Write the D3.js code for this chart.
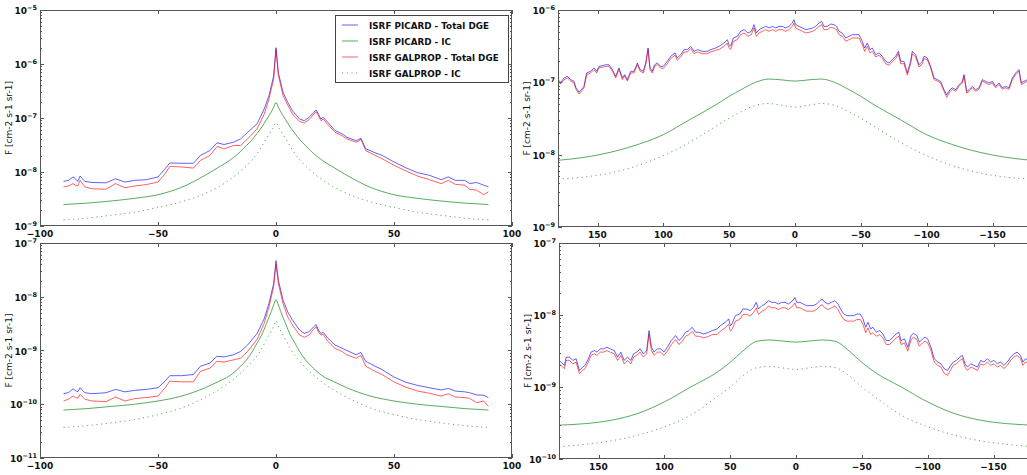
<!DOCTYPE html>
<html><head><meta charset="utf-8">
<script src="https://cdn.jsdelivr.net/npm/d3@7"></script>
<style>body{margin:0;background:#fff}svg{display:block}text{font-family:"DejaVu Sans",sans-serif}</style>
</head><body><svg id="c" width="1027" height="475"></svg>
<script>
// ---------- DATA ----------
const seriesNames = ["ISRF PICARD - Total DGE","ISRF PICARD - IC","ISRF GALPROP - Total DGE","ISRF GALPROP - IC"];

// latitude profiles (top-left / bottom-left)
const latTot = [-90,-88,-86,-85,-84,-83,-81,-78,-72,-68,-64,-60,-55,-50,-47,-45,-40,-35,-32,-28,-25,-22,-18,-15,-12,-8,-5,-3,-1,0,1,3,5,7,10,12,14,16,17,18,19,20,22,25,28,30,34,36,38,42,45,50,55,60,65,70,73,76,80,82,85,88,90];
const latA_picTot = [6.7e-9,7.0e-9,8.1e-9,7.5e-9,6.7e-9,8.4e-9,6.7e-9,6.4e-9,6.3e-9,7.5e-9,6.5e-9,7.0e-9,7.2e-9,8.1e-9,1.15e-8,1.47e-8,1.45e-8,1.45e-8,2.03e-8,2.5e-8,3.47e-8,3.23e-8,3.57e-8,4.1e-8,5.45e-8,7.8e-8,1.47e-7,2.58e-7,6.0e-7,2.0e-6,6.9e-7,2.97e-7,1.94e-7,1.36e-7,9.6e-8,8.9e-8,1.03e-7,1.27e-7,1.4e-7,1.18e-7,9.6e-8,1.03e-7,8.3e-8,5.85e-8,5.1e-8,4.4e-8,3.8e-8,4.2e-8,2.7e-8,2.27e-8,2.03e-8,1.53e-8,1.2e-8,9.7e-9,8.7e-9,7.2e-9,8.1e-9,7.0e-9,7.0e-9,6.1e-9,6.4e-9,5.7e-9,5.3e-9];
const latA_galTot = [5.3e-9,5.5e-9,6.1e-9,5.7e-9,5.5e-9,7.0e-9,5.3e-9,4.9e-9,4.8e-9,6.1e-9,5.1e-9,5.5e-9,5.85e-9,6.5e-9,9.3e-9,1.27e-8,1.24e-8,1.18e-8,1.64e-8,2.03e-8,2.97e-8,2.69e-8,3.1e-8,3.1e-8,4.1e-8,6.3e-8,1.18e-7,2.24e-7,5.2e-7,1.86e-6,6.2e-7,2.58e-7,1.73e-7,1.18e-7,8.6e-8,8.1e-8,9.3e-8,1.18e-7,1.31e-7,1.1e-7,8.9e-8,9.6e-8,7.5e-8,5.45e-8,4.7e-8,4.1e-8,3.56e-8,4.0e-8,2.5e-8,2.03e-8,1.76e-8,1.33e-8,1.05e-8,8.4e-9,7.2e-9,6.1e-9,7.0e-9,5.9e-9,5.7e-9,4.8e-9,4.6e-9,3.8e-9,4.3e-9];
const latB_picTot = [1.58e-10,1.64e-10,1.94e-10,1.8e-10,1.7e-10,2.03e-10,1.64e-10,1.57e-10,1.64e-10,1.89e-10,1.7e-10,1.81e-10,1.89e-10,2.03e-10,2.69e-10,3.4e-10,3.4e-10,3.57e-10,5.1e-10,5.85e-10,7.8e-10,7.6e-10,8.3e-10,9.6e-10,1.27e-9,2.08e-9,3.9e-9,7.4e-9,1.76e-8,4.7e-8,2.03e-8,8.6e-9,5.2e-9,3.67e-9,2.4e-9,2.08e-9,2.24e-9,2.77e-9,3.05e-9,2.4e-9,2.08e-9,2.17e-9,1.69e-9,1.27e-9,1.1e-9,1.0e-9,8.3e-10,9.2e-10,6.3e-10,5.1e-10,4.4e-10,3.2e-10,2.57e-10,2.24e-10,2.03e-10,1.84e-10,1.97e-10,1.76e-10,1.7e-10,1.64e-10,1.49e-10,1.47e-10,1.33e-10];
const latB_galTot = [1.15e-10,1.24e-10,1.42e-10,1.35e-10,1.29e-10,1.53e-10,1.24e-10,1.15e-10,1.12e-10,1.36e-10,1.15e-10,1.27e-10,1.33e-10,1.42e-10,2.03e-10,2.69e-10,2.61e-10,2.61e-10,4.1e-10,4.7e-10,6.3e-10,6.1e-10,6.7e-10,7.2e-10,9.6e-10,1.62e-9,3.2e-9,6.4e-9,1.53e-8,4.1e-8,1.76e-8,7.4e-9,4.2e-9,2.97e-9,1.94e-9,1.76e-9,1.94e-9,2.5e-9,2.77e-9,2.17e-9,1.94e-9,2.0e-9,1.47e-9,1.1e-9,9.6e-10,8.3e-10,7.2e-10,8.1e-10,5.1e-10,4.1e-10,3.56e-10,2.6e-10,2.08e-10,1.76e-10,1.6e-10,1.42e-10,1.57e-10,1.36e-10,1.33e-10,1.29e-10,1.07e-10,1.15e-10,9.1e-11];

const latIC = [-90,-80,-70,-60,-50,-40,-30,-24,-20,-15,-12.5,-10,-8,-6,-4,-2,-1,0,1,2,4,6,8,10,12.5,15,20,24,30,40,50,60,70,80,90];
const latA_picIC = [2.5e-9,2.65e-9,2.9e-9,3.25e-9,3.8e-9,5.2e-9,8.7e-9,1.25e-8,1.6e-8,2.4e-8,3.1e-8,4.0e-8,5.2e-8,6.8e-8,9.4e-8,1.3e-7,1.58e-7,1.94e-7,1.58e-7,1.3e-7,9.4e-8,6.8e-8,5.2e-8,4.0e-8,3.1e-8,2.4e-8,1.6e-8,1.25e-8,8.7e-9,5.2e-9,3.8e-9,3.25e-9,2.9e-9,2.65e-9,2.5e-9];
const latA_galIC = [1.29e-9,1.4e-9,1.58e-9,1.8e-9,2.2e-9,2.8e-9,4.0e-9,5.4e-9,7.0e-9,1.03e-8,1.3e-8,1.7e-8,2.2e-8,3.0e-8,4.2e-8,5.7e-8,6.8e-8,8.3e-8,6.8e-8,5.7e-8,4.2e-8,3.0e-8,2.2e-8,1.7e-8,1.3e-8,1.03e-8,7.0e-9,5.4e-9,4.0e-9,2.8e-9,2.2e-9,1.8e-9,1.58e-9,1.4e-9,1.29e-9];
const latB_picIC = [7.8e-11,8.3e-11,9.1e-11,1.0e-10,1.15e-10,1.42e-10,2.03e-10,2.7e-10,3.3e-10,5.1e-10,6.7e-10,9.6e-10,1.38e-9,1.97e-9,3.2e-9,5.3e-9,7.0e-9,8.9e-9,7.0e-9,5.3e-9,3.2e-9,1.97e-9,1.38e-9,9.6e-10,6.7e-10,5.1e-10,3.3e-10,2.7e-10,2.03e-10,1.42e-10,1.15e-10,1.0e-10,9.1e-11,8.3e-11,7.8e-11];
const latB_galIC = [3.7e-11,4.0e-11,4.5e-11,5.2e-11,6.4e-11,8.5e-11,1.35e-10,1.9e-10,2.5e-10,3.8e-10,4.8e-10,6.3e-10,8.0e-10,1.1e-9,1.6e-9,2.3e-9,2.8e-9,3.6e-9,2.8e-9,2.3e-9,1.6e-9,1.1e-9,8.0e-10,6.3e-10,4.8e-10,3.8e-10,2.5e-10,1.9e-10,1.35e-10,8.5e-11,6.4e-11,5.2e-11,4.5e-11,4.0e-11,3.7e-11];

// longitude profiles (top-right)
const lonA = [180,178,175.4,172.9,170.4,167.8,166.6,164,162.3,160.3,158.2,155.2,152.7,150.6,148.9,146.3,143.8,141.3,138.7,136.2,133.7,131.1,129.4,127.3,124.8,122.3,119.7,117.7,115.2,113.4,111.6,110.1,108.4,106.6,104.6,102,100,97,94.4,91.1,89.4,86.8,84.3,81.8,79.2,76.7,74.2,70.4,66.6,64.1,60.3,57.7,53.9,51.4,50.1,48.9,46.8,43.8,41.3,38.7,35.7,33.2,31.1,29.4,27.3,24.8,22.3,19.7,17.2,14.7,12.2,9.6,7.1,4.6,2,0.8,-0.5,-3,-5.6,-8.1,-10.6,-13.2,-15.7,-18.2,-20.3,-22,-24.6,-27.1,-29.6,-31.6,-33.4,-35.9,-38.5,-41,-43.5,-46.1,-48.6,-51.1,-52.9,-54.9,-57,-58.7,-61.3,-63.8,-66.3,-68.9,-71.4,-73.9,-76.5,-78.5,-80.3,-82.8,-85.3,-87.8,-89.1,-91.6,-94.2,-96.7,-98,-100.5,-103,-105.6,-108.1,-110.6,-113.2,-115.2,-117.7,-119.5,-122,-124.6,-127.1,-128.4,-130.4,-132.2,-134.7,-137.2,-139.7,-142.3,-144.8,-147.3,-149.9,-152.4,-154.9,-157.5,-160,-162.5,-165.1,-167.6,-170.1,-171.9,-173.9,-176.5,-180];
const lonA_picTot = [1.09e-7,1.0e-7,1.15e-7,1.21e-7,1.09e-7,1.03e-7,8.6e-8,7.3e-8,7.9e-8,8.8e-8,1.35e-7,1.42e-7,1.58e-7,1.42e-7,1.66e-7,1.7e-7,1.75e-7,1.75e-7,1.5e-7,1.21e-7,1.58e-7,1.15e-7,1.28e-7,1.09e-7,1.42e-7,1.42e-7,1.85e-7,1.5e-7,1.42e-7,1.85e-7,2.98e-7,1.58e-7,1.42e-7,1.75e-7,1.85e-7,1.66e-7,1.66e-7,1.95e-7,2.29e-7,2.55e-7,2.17e-7,2.41e-7,2.83e-7,2.83e-7,3.15e-7,2.68e-7,2.83e-7,2.68e-7,2.68e-7,2.83e-7,2.98e-7,3.15e-7,3.5e-7,3.89e-7,3.32e-7,3.15e-7,4.1e-7,4.32e-7,5.07e-7,5.35e-7,4.81e-7,5.07e-7,6.27e-7,4.81e-7,5.35e-7,5.64e-7,5.94e-7,5.64e-7,5.94e-7,5.64e-7,5.94e-7,5.94e-7,5.64e-7,5.94e-7,6.61e-7,7.35e-7,6.27e-7,5.94e-7,5.64e-7,5.35e-7,5.46e-7,5.64e-7,5.94e-7,6.61e-7,6.97e-7,5.94e-7,5.94e-7,6.4e-7,6.27e-7,5.94e-7,5.07e-7,4.81e-7,4.1e-7,4.32e-7,4.56e-7,4.56e-7,4.56e-7,3.69e-7,2.98e-7,3.5e-7,2.83e-7,2.98e-7,2.41e-7,2.55e-7,2.29e-7,1.95e-7,1.85e-7,2.06e-7,2.29e-7,2.68e-7,1.95e-7,1.95e-7,1.35e-7,1.95e-7,2.68e-7,2.41e-7,1.75e-7,1.95e-7,2.29e-7,2.17e-7,1.66e-7,1.15e-7,1.09e-7,1.03e-7,7.9e-8,6.7e-8,7.9e-8,8.4e-8,7.9e-8,9.3e-8,1.03e-7,1.28e-7,7.5e-8,7.9e-8,8.8e-8,7.9e-8,8.4e-8,1.09e-7,1.03e-7,9.8e-8,1.03e-7,8.8e-8,9.8e-8,8.4e-8,8.8e-8,8.4e-8,1.15e-7,1.35e-7,1.5e-7,9.8e-8,1.03e-7,1.09e-7,1.09e-7];
const lonA_galTot = [1.04e-7,9.5e-8,1.09e-7,1.15e-7,1.04e-7,9.8e-8,8.2e-8,6.9e-8,7.5e-8,8.4e-8,1.28e-7,1.35e-7,1.5e-7,1.35e-7,1.58e-7,1.62e-7,1.66e-7,1.66e-7,1.43e-7,1.15e-7,1.5e-7,1.09e-7,1.22e-7,1.04e-7,1.35e-7,1.35e-7,1.76e-7,1.43e-7,1.35e-7,1.76e-7,2.83e-7,1.5e-7,1.35e-7,1.66e-7,1.76e-7,1.58e-7,1.55e-7,1.81e-7,2.13e-7,2.37e-7,2.02e-7,2.24e-7,2.63e-7,2.63e-7,2.93e-7,2.49e-7,2.63e-7,2.49e-7,2.49e-7,2.63e-7,2.77e-7,2.84e-7,3.15e-7,3.5e-7,2.99e-7,2.84e-7,3.69e-7,3.89e-7,4.56e-7,4.82e-7,4.33e-7,4.56e-7,5.64e-7,4.33e-7,4.82e-7,5.08e-7,5.35e-7,5.08e-7,5.35e-7,5.08e-7,5.35e-7,5.35e-7,5.08e-7,5.35e-7,5.95e-7,6.6e-7,5.64e-7,5.35e-7,5.08e-7,4.82e-7,4.91e-7,5.08e-7,5.35e-7,5.95e-7,6.27e-7,5.35e-7,5.35e-7,5.76e-7,5.64e-7,5.35e-7,4.56e-7,4.33e-7,3.69e-7,3.89e-7,4.1e-7,4.1e-7,4.1e-7,3.32e-7,2.68e-7,3.15e-7,2.55e-7,2.68e-7,2.24e-7,2.37e-7,2.13e-7,1.81e-7,1.72e-7,1.92e-7,2.13e-7,2.49e-7,1.81e-7,1.81e-7,1.26e-7,1.81e-7,2.49e-7,2.24e-7,1.63e-7,1.81e-7,2.13e-7,2.06e-7,1.58e-7,1.09e-7,1.04e-7,9.8e-8,7.5e-8,6.2e-8,7.4e-8,8.0e-8,7.5e-8,8.8e-8,9.8e-8,1.22e-7,7.1e-8,7.5e-8,8.4e-8,7.5e-8,8.0e-8,1.04e-7,9.8e-8,9.3e-8,9.8e-8,8.4e-8,9.3e-8,8.0e-8,8.4e-8,8.0e-8,1.09e-7,1.28e-7,1.43e-7,9.3e-8,9.8e-8,1.04e-7,1.04e-7];

// longitude profiles (bottom-right)
const lonB = [180,175.8,174.6,172,169.5,167,164.5,162,160.2,157.7,155.7,153.1,151.1,148.6,146.1,143.6,141.1,138,135.5,133,130.5,128,125.4,123.4,120.9,118.4,115.9,113.4,111.6,109.8,107.8,105.3,102.8,100.3,97.7,94.7,91.4,88.9,86.4,83.9,81.4,78.8,76.3,73.8,70,66.2,63.7,59.9,57.4,53.7,51.1,49.9,48.6,46.1,42.8,40.3,37.3,34.8,32.2,30.2,28.5,25.9,23.4,20.9,18.4,15.9,13.4,10.8,8.3,5.8,2.5,0.8,-0.5,-3,-5.5,-8.1,-10.6,-13.1,-15.6,-18.1,-19.9,-21.9,-24.4,-27,-29.5,-32,-33.8,-36.3,-38.8,-41.3,-43.8,-46.3,-48.9,-50.9,-52.9,-54.7,-56.7,-58.4,-61,-63.5,-66,-68.5,-71,-73.6,-76.1,-78.1,-79.8,-82.4,-84.9,-87.4,-89.2,-91.7,-93.7,-96.2,-98,-100,-102.5,-105,-107.6,-110.1,-112.6,-115.1,-117.6,-119.4,-121.9,-124.4,-126.4,-128.4,-130.2,-132.7,-135.3,-137.8,-140.3,-142.8,-145.3,-147.9,-150.4,-152.9,-155.4,-157.9,-160.5,-163,-165.5,-168,-170.5,-172.3,-174.3,-176.8,-180];
const lonB_picTot = [2.34e-9,2.0e-9,2.6e-9,2.6e-9,2.34e-9,2.47e-9,1.7e-9,1.89e-9,2.0e-9,2.47e-9,3.05e-9,3.21e-9,3.05e-9,3.39e-9,3.39e-9,3.57e-9,3.39e-9,3.21e-9,2.6e-9,3.05e-9,2.34e-9,2.6e-9,2.34e-9,2.89e-9,3.05e-9,3.39e-9,2.89e-9,3.21e-9,6.07e-9,3.57e-9,3.05e-9,3.39e-9,3.39e-9,3.05e-9,3.57e-9,4.42e-9,5.18e-9,4.42e-9,4.91e-9,5.76e-9,6.07e-9,6.75e-9,5.76e-9,5.76e-9,5.46e-9,5.76e-9,6.07e-9,6.4e-9,7.12e-9,7.92e-9,8.81e-9,7.12e-9,7.51e-9,9.79e-9,1.03e-8,1.21e-8,1.21e-8,1.15e-8,1.28e-8,1.5e-8,1.21e-8,1.35e-8,1.42e-8,1.58e-8,1.5e-8,1.5e-8,1.42e-8,1.5e-8,1.5e-8,1.42e-8,1.58e-8,1.75e-8,1.5e-8,1.5e-8,1.42e-8,1.35e-8,1.35e-8,1.35e-8,1.42e-8,1.58e-8,1.66e-8,1.5e-8,1.42e-8,1.5e-8,1.58e-8,1.42e-8,1.21e-8,1.03e-8,9.79e-9,9.79e-9,9.79e-9,1.03e-8,1.03e-8,8.81e-9,6.75e-9,7.92e-9,6.4e-9,6.75e-9,5.76e-9,6.07e-9,5.46e-9,4.42e-9,4.42e-9,4.91e-9,5.46e-9,5.76e-9,4.42e-9,4.66e-9,3.57e-9,5.18e-9,5.58e-9,5.18e-9,4.19e-9,4.66e-9,4.91e-9,4.66e-9,3.57e-9,2.47e-9,2.22e-9,2.1e-9,1.79e-9,1.7e-9,2.0e-9,2.22e-9,2.34e-9,2.6e-9,2.74e-9,2.1e-9,1.89e-9,2.1e-9,2.0e-9,1.89e-9,2.34e-9,2.22e-9,2.47e-9,2.22e-9,2.34e-9,2.1e-9,2.22e-9,2.0e-9,2.22e-9,2.6e-9,2.89e-9,3.05e-9,2.74e-9,2.22e-9,2.47e-9,2.34e-9,2.34e-9];
const lonB_galTot = [2.1e-9,1.8e-9,2.34e-9,2.34e-9,2.1e-9,2.22e-9,1.53e-9,1.7e-9,1.8e-9,2.22e-9,2.75e-9,2.89e-9,2.75e-9,3.05e-9,3.05e-9,3.21e-9,3.05e-9,2.89e-9,2.34e-9,2.75e-9,2.1e-9,2.34e-9,2.1e-9,2.6e-9,2.75e-9,3.05e-9,2.6e-9,2.89e-9,5.46e-9,3.21e-9,2.75e-9,3.05e-9,3.05e-9,2.75e-9,3.14e-9,3.89e-9,4.56e-9,3.89e-9,4.32e-9,5.07e-9,5.34e-9,5.94e-9,5.07e-9,5.07e-9,4.8e-9,5.07e-9,5.34e-9,5.38e-9,5.98e-9,6.65e-9,7.4e-9,5.98e-9,6.31e-9,8.22e-9,8.65e-9,1.02e-8,1.02e-8,9.66e-9,1.08e-8,1.26e-8,1.02e-8,1.13e-8,1.19e-8,1.33e-8,1.26e-8,1.26e-8,1.19e-8,1.26e-8,1.26e-8,1.19e-8,1.33e-8,1.47e-8,1.26e-8,1.26e-8,1.19e-8,1.13e-8,1.13e-8,1.13e-8,1.19e-8,1.33e-8,1.39e-8,1.26e-8,1.19e-8,1.26e-8,1.33e-8,1.19e-8,1.02e-8,8.65e-9,8.22e-9,8.22e-9,8.22e-9,8.65e-9,8.65e-9,7.4e-9,5.67e-9,6.65e-9,5.38e-9,5.67e-9,5.07e-9,5.34e-9,4.8e-9,3.89e-9,3.89e-9,4.32e-9,4.8e-9,5.07e-9,3.89e-9,4.1e-9,3.14e-9,4.56e-9,4.91e-9,4.56e-9,3.69e-9,4.1e-9,4.32e-9,4.1e-9,3.21e-9,2.22e-9,2.0e-9,1.89e-9,1.55e-9,1.45e-9,1.75e-9,2.0e-9,2.1e-9,2.34e-9,2.47e-9,1.89e-9,1.7e-9,1.89e-9,1.8e-9,1.7e-9,2.1e-9,2.0e-9,2.22e-9,2.0e-9,2.1e-9,1.89e-9,2.0e-9,1.8e-9,2.0e-9,2.34e-9,2.6e-9,2.75e-9,2.47e-9,2.0e-9,2.22e-9,2.1e-9,2.1e-9];

const lonIC = [180,160,140,120,100,80,60,50,40,30,20,10,0,-10,-20,-30,-40,-50,-60,-80,-100,-120,-140,-160,-180];
const lonA_picIC = [8.35e-9,9.2e-9,1.08e-8,1.37e-8,1.89e-8,3.05e-8,4.9e-8,6.4e-8,8.1e-8,1.0e-7,1.11e-7,1.08e-7,1.04e-7,1.08e-7,1.11e-7,1.0e-7,8.1e-8,6.4e-8,4.9e-8,3.05e-8,1.89e-8,1.37e-8,1.08e-8,9.2e-9,8.35e-9];
const lonA_galIC = [4.6e-9,4.9e-9,5.6e-9,7.0e-9,9.7e-9,1.48e-8,2.47e-8,3.2e-8,4.0e-8,4.8e-8,5.1e-8,4.8e-8,4.56e-8,4.8e-8,5.1e-8,4.8e-8,4.0e-8,3.2e-8,2.47e-8,1.48e-8,9.7e-9,7.0e-9,5.6e-9,4.9e-9,4.6e-9];
const lonB_picIC = [2.95e-10,3.1e-10,3.46e-10,4.3e-10,6.2e-10,1.0e-9,1.6e-9,2.2e-9,3.2e-9,4.3e-9,4.5e-9,4.35e-9,4.2e-9,4.35e-9,4.5e-9,4.3e-9,3.2e-9,2.2e-9,1.6e-9,1.0e-9,6.2e-10,4.3e-10,3.46e-10,3.1e-10,2.95e-10];
const lonB_galIC = [1.48e-10,1.6e-10,1.79e-10,2.15e-10,2.8e-10,4.06e-10,7.3e-10,1.0e-9,1.45e-9,1.85e-9,1.93e-9,1.84e-9,1.75e-9,1.84e-9,1.93e-9,1.85e-9,1.45e-9,1.0e-9,7.3e-10,4.06e-10,2.8e-10,2.15e-10,1.79e-10,1.6e-10,1.48e-10];

const latTicks = [-100,-50,0,50,100];
const lonTicks = [150,100,50,0,-50,-100,-150];
const yLabel = "F [cm-2 s-1 sr-1]";

// ---------- DRAWING ----------
const svg = d3.select("#c");
const styles = [
  {stroke:"#0000ff", op:0.62, dash:null},
  {stroke:"#008000", op:0.65, dash:null},
  {stroke:"#ff0000", op:0.62, dash:null},
  {stroke:"#008000", op:0.65, dash:"1.2,3.5"}
];
const zip = (xs, ys) => xs.map((x,i)=>[x, ys[i]]);

const panels = [
  {L:40,R:512,T:10,B:226, xdom:[-100,100], ydom:[1e-9,1e-5], xt:latTicks,
   series:[zip(latTot,latA_picTot), zip(latIC,latA_picIC), zip(latTot,latA_galTot), zip(latIC,latA_galIC)], legend:true},
  {L:558,R:1032,T:10,B:227, xdom:[180,-180], ydom:[1e-9,1e-6], xt:lonTicks,
   series:[zip(lonA,lonA_picTot), zip(lonIC,lonA_picIC), zip(lonA,lonA_galTot), zip(lonIC,lonA_galIC)]},
  {L:40,R:512,T:243,B:458, xdom:[-100,100], ydom:[1e-11,1e-7], xt:latTicks,
   series:[zip(latTot,latB_picTot), zip(latIC,latB_picIC), zip(latTot,latB_galTot), zip(latIC,latB_galIC)]},
  {L:559,R:1033,T:243,B:459, xdom:[180,-180], ydom:[1e-10,1e-7], xt:lonTicks,
   series:[zip(lonB,lonB_picTot), zip(lonIC,lonB_picIC), zip(lonB,lonB_galTot), zip(lonIC,lonB_galIC)]}
];

const fmtMinus = v => (v<0 ? "\u2212"+Math.abs(v) : ""+v);

panels.forEach((p,pi)=>{
  const x = d3.scaleLinear().domain(p.xdom).range([p.L,p.R]);
  const y = d3.scaleLog().domain(p.ydom).range([p.B,p.T]);
  const g = svg.append("g");
  const cid = "clip"+pi;
  svg.append("clipPath").attr("id",cid).append("rect")
    .attr("x",p.L).attr("y",p.T).attr("width",p.R-p.L).attr("height",p.B-p.T);

  const order = [1,3,0,2];
  const lg = g.append("g").attr("clip-path",`url(#${cid})`);
  order.forEach(si=>{
    const st = styles[si];
    const curve = (si===1||si===3) ? d3.curveMonotoneX : d3.curveLinear;
    const line = d3.line().x(d=>x(d[0])).y(d=>y(d[1])).curve(curve);
    const data = p.series[si].slice().sort((a,b)=>x(a[0])-x(b[0]));
    lg.append("path").attr("d",line(data)).attr("fill","none")
      .attr("stroke",st.stroke).attr("stroke-opacity",st.op).attr("stroke-width",1)
      .attr("stroke-dasharray",st.dash);
  });

  g.append("rect").attr("x",p.L+0.5).attr("y",p.T+0.5).attr("width",p.R-p.L-1).attr("height",p.B-p.T-1)
    .attr("fill","none").attr("stroke","#555").attr("stroke-width",1);

  p.xt.forEach(v=>{
    const xx = Math.round(x(v))+0.5;
    g.append("line").attr("x1",xx).attr("x2",xx).attr("y1",p.B).attr("y2",p.B-4).attr("stroke","#555");
    g.append("line").attr("x1",xx).attr("x2",xx).attr("y1",p.T).attr("y2",p.T+4).attr("stroke","#555");
    g.append("text").attr("x",x(v)).attr("y",p.B+11).attr("text-anchor","middle")
      .attr("font-size",9).attr("font-weight","bold").attr("fill","#111").text(fmtMinus(v));
  });

  const e0 = Math.round(Math.log10(p.ydom[0])), e1 = Math.round(Math.log10(p.ydom[1]));
  for(let e=e0;e<=e1;e++){
    const yy = Math.round(y(Math.pow(10,e)))+0.5;
    g.append("line").attr("x1",p.L).attr("x2",p.L+4).attr("y1",yy).attr("y2",yy).attr("stroke","#555");
    g.append("line").attr("x1",p.R).attr("x2",p.R-4).attr("y1",yy).attr("y2",yy).attr("stroke","#555");
    const t = g.append("text").attr("x",p.L-3).attr("y",y(Math.pow(10,e))+4).attr("text-anchor","end")
      .attr("font-size",9).attr("font-weight","bold").attr("fill","#111");
    t.append("tspan").text("10");
    t.append("tspan").attr("dy",-4).attr("font-size",6.5).text("\u2212"+Math.abs(e));
    if(e<e1){
      for(let m=2;m<=9;m++){
        const ym = Math.round(y(m*Math.pow(10,e)))+0.5;
        g.append("line").attr("x1",p.L).attr("x2",p.L+2).attr("y1",ym).attr("y2",ym).attr("stroke","#555");
        g.append("line").attr("x1",p.R).attr("x2",p.R-2).attr("y1",ym).attr("y2",ym).attr("stroke","#555");
      }
    }
  }

  const lx = p.L-28, ly = (p.T+p.B)/2;
  g.append("text").attr("transform",`translate(${lx},${ly}) rotate(-90)`).attr("text-anchor","middle")
    .attr("font-size",9).attr("fill","#111").text(yLabel);

  if(p.legend){
    const lgX=335, lgY=15, lgW=173, lgH=67;
    g.append("rect").attr("x",lgX+0.5).attr("y",lgY+0.5).attr("width",lgW).attr("height",lgH)
      .attr("fill","#fff").attr("stroke","#444").attr("stroke-width",1);
    seriesNames.forEach((n,i)=>{
      const yy = lgY+10+i*16;
      const st = styles[i];
      g.append("line").attr("x1",lgX+7).attr("x2",lgX+23).attr("y1",yy).attr("y2",yy)
        .attr("stroke",st.stroke).attr("stroke-opacity",st.op).attr("stroke-dasharray",st.dash);
      g.append("text").attr("x",lgX+34).attr("y",yy+3.5).attr("font-size",8.8).attr("font-weight","bold")
        .attr("fill","#111").text(n);
    });
  }
});
</script></body></html>
